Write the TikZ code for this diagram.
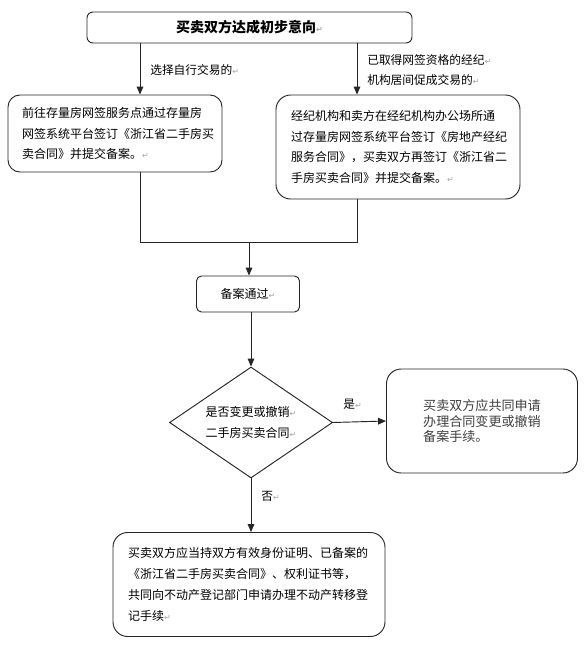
\documentclass[tikz,border=0pt]{standalone}
\usepackage{fontspec}
\setmainfont{Noto Sans CJK SC}
\newfontfamily\symf{DejaVu Sans}
\usetikzlibrary{shapes.geometric,arrows.meta}
\newcommand\retmark{{\symf\fontsize{6pt}{6pt}\selectfont\color{black!35}↵}}
\tikzset{
  rbox/.style={draw=black!85, line width=0.7pt, rounded corners=#1, inner ysep=0pt, fill=white},
  boxtxt/.style={font=\fontsize{9pt}{15.6pt}\selectfont, align=left},
  conn/.style={draw=black!85, line width=0.7pt},
  arr/.style={conn, -{Triangle[length=6pt,width=5pt]}},
  lbl/.style={font=\fontsize{8.8pt}{15pt}\selectfont, inner sep=0pt, anchor=west, align=left}
}
\begin{document}
\begin{tikzpicture}[x=0.75pt,y=-0.75pt]
\fill[white] (0,0) rectangle (584,647);
\useasboundingbox (0,0) rectangle (584,647);

% boxes
\node[rbox=4.5pt, minimum width=243.75pt, minimum height=23.25pt, font=\fontsize{10.5pt}{12pt}\selectfont\bfseries]
  (top) at (249.5,27.5) {买卖双方达成初步意向\retmark};

\node[rbox=9pt, boxtxt, inner xsep=10.5pt, text width=139.5pt, minimum height=57.75pt]
  (left) at (115,133.5) {前往存量房网签服务点通过存量房\\网签系统平台签订《浙江省二手房买\\卖合同》并提交备案。\retmark};

\node[rbox=11pt, boxtxt, inner xsep=11.25pt, text width=160.5pt, minimum height=78pt]
  (right) at (398,147) {经纪机构和卖方在经纪机构办公场所通\\过存量房网签系统平台签订《房地产经纪\\服务合同》，买卖双方再签订《浙江省二\\手房买卖合同》并提交备案。\retmark};

\node[rbox=3.75pt, minimum width=77.25pt, minimum height=27pt, font=\fontsize{9pt}{12pt}\selectfont]
  (pass) at (248,294) {备案通过\retmark};

\node[draw=black!85, line width=0.7pt, diamond, shape aspect=1.47, inner sep=0pt,
      minimum width=122.25pt, minimum height=83.25pt, align=center,
      font=\fontsize{9pt}{15.75pt}\selectfont]
  (dia) at (251,422.5) {是否变更或撤销\retmark\\二手房买卖合同\retmark};

\node[rbox=11pt, minimum width=143.25pt, minimum height=78pt, align=left,
      font=\fontsize{9.8pt}{11.4pt}\selectfont, text=black!75]
  (side) at (482,421) {买卖双方应共同申请\\办理合同变更或撤销\\备案手续。};

\node[rbox=11pt, boxtxt, inner xsep=11.25pt, text width=181.5pt, minimum height=78pt]
  (bottom) at (249,584.5) {买卖双方应当持双方有效身份证明、已备案的\\《浙江省二手房买卖合同》、权利证书等，\\共同向不动产登记部门申请办理不动产转移登\\记手续\retmark};

% helper coordinates
\coordinate (xL) at (140,0);
\coordinate (xR) at (357,0);
\coordinate (xM) at (249,0);
\coordinate (yJ) at (0,242);

% connectors
\draw[arr] (xL |- top.south) -- (xL |- left.north);
\draw[arr] (xR |- top.south) -- (xR |- right.north);
\draw[conn] (xL |- left.south) -- (xL |- yJ) -- (xR |- yJ) -- (xR |- right.south);
\draw[arr] (xM |- yJ) -- (xM |- pass.north);
\draw[arr] (dia.north |- pass.south) -- (dia.north);
\draw[arr] (dia.east) -- (side.west);
\draw[arr] (dia.south) -- (dia.south |- bottom.north);

% labels
\node[lbl] (l1) at (150,70) {选择自行交易的\retmark};
\node[lbl] (l2) at (367,70) {已取得网签资格的经纪\retmark\\机构居间促成交易的\retmark};
\node[lbl] (lyes) at (343,404) {是\retmark};
\node[lbl] (lno) at (261,496) {否\retmark};
\end{tikzpicture}
\end{document}
